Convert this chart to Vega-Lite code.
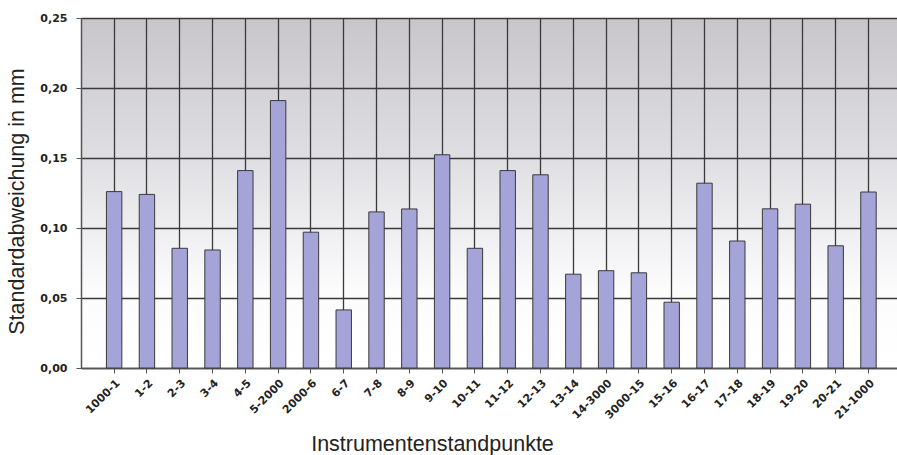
{
  "$schema": "https://vega.github.io/schema/vega-lite/v6.json",
  "width": 816,
  "height": 350,
  "autosize": {"type": "none"},
  "padding": {"left": 81, "top": 18, "right": 0, "bottom": 87},
  "background": "#ffffff",
  "config": {
    "font": "Liberation Sans",
    "view": {
      "stroke": null,
      "fill": {"gradient": "linear", "x1": 0, "y1": 0, "x2": 0, "y2": 1,
        "stops": [{"offset": 0, "color": "#c8c6cb"}, {"offset": 0.4, "color": "#dfdee2"}, {"offset": 0.78, "color": "#fcfcfd"}, {"offset": 1, "color": "#ffffff"}]}
    }
  },
  "data": {
    "values": [
      {"k": "1000-1", "v": 0.126},
      {"k": "1-2", "v": 0.124},
      {"k": "2-3", "v": 0.0855},
      {"k": "3-4", "v": 0.0843},
      {"k": "4-5", "v": 0.141},
      {"k": "5-2000", "v": 0.191},
      {"k": "2000-6", "v": 0.097},
      {"k": "6-7", "v": 0.0415},
      {"k": "7-8", "v": 0.1115},
      {"k": "8-9", "v": 0.1136},
      {"k": "9-10", "v": 0.1523},
      {"k": "10-11", "v": 0.0855},
      {"k": "11-12", "v": 0.141},
      {"k": "12-13", "v": 0.138},
      {"k": "13-14", "v": 0.067},
      {"k": "14-3000", "v": 0.0695},
      {"k": "3000-15", "v": 0.068},
      {"k": "15-16", "v": 0.047},
      {"k": "16-17", "v": 0.132},
      {"k": "17-18", "v": 0.0907},
      {"k": "18-19", "v": 0.1137},
      {"k": "19-20", "v": 0.117},
      {"k": "20-21", "v": 0.0873},
      {"k": "21-1000", "v": 0.1257}
    ]
  },
  "mark": {"type": "bar", "fill": "#a4a4d9", "stroke": "#3a3a3a", "strokeWidth": 1},
  "encoding": {
    "x": {
      "field": "k", "type": "nominal", "sort": null,
      "scale": {"paddingInner": 0.53, "paddingOuter": 0.705, "align": 0.55},
      "axis": {
        "title": "Instrumentenstandpunkte",
        "titleFont": "Liberation Sans", "titleFontSize": 21.5, "titleFontWeight": "normal", "titleColor": "#222222",
        "titleX": 351, "titleY": 82, "titleAlign": "center", "titleBaseline": "alphabetic",
        "labelAngle": -45, "labelFont": "DejaVu Sans", "labelFontSize": 11, "labelFontWeight": "bold", "labelColor": "#222222",
        "labelPadding": 4,
        "domainColor": "#555555", "domainWidth": 1.5,
        "tickColor": "#555555", "tickSize": 5, "tickWidth": 1,
        "grid": true, "gridColor": "#3a3a3a", "gridWidth": 1.3, "gridOpacity": 1
      }
    },
    "y": {
      "field": "v", "type": "quantitative",
      "scale": {"domain": [0, 0.25], "nice": false},
      "axis": {
        "title": "Standardabweichung in mm",
        "titleFont": "Liberation Sans", "titleFontSize": 21.5, "titleFontWeight": "normal", "titleColor": "#222222",
        "titleX": -58, "titleY": 183, "titleAlign": "center", "titleBaseline": "alphabetic", "titleAngle": 270,
        "values": [0, 0.05, 0.1, 0.15, 0.2, 0.25],
        "labelExpr": "replace(format(datum.value, '.2f'), '.', ',')",
        "labelFont": "DejaVu Sans", "labelFontSize": 11, "labelFontWeight": "bold", "labelColor": "#222222",
        "labelPadding": 9,
        "domainColor": "#555555", "domainWidth": 1.5,
        "tickColor": "#555555", "tickSize": 5, "tickWidth": 1,
        "grid": true, "gridColor": "#3a3a3a", "gridWidth": 1.3, "gridOpacity": 1
      }
    }
  }
}
